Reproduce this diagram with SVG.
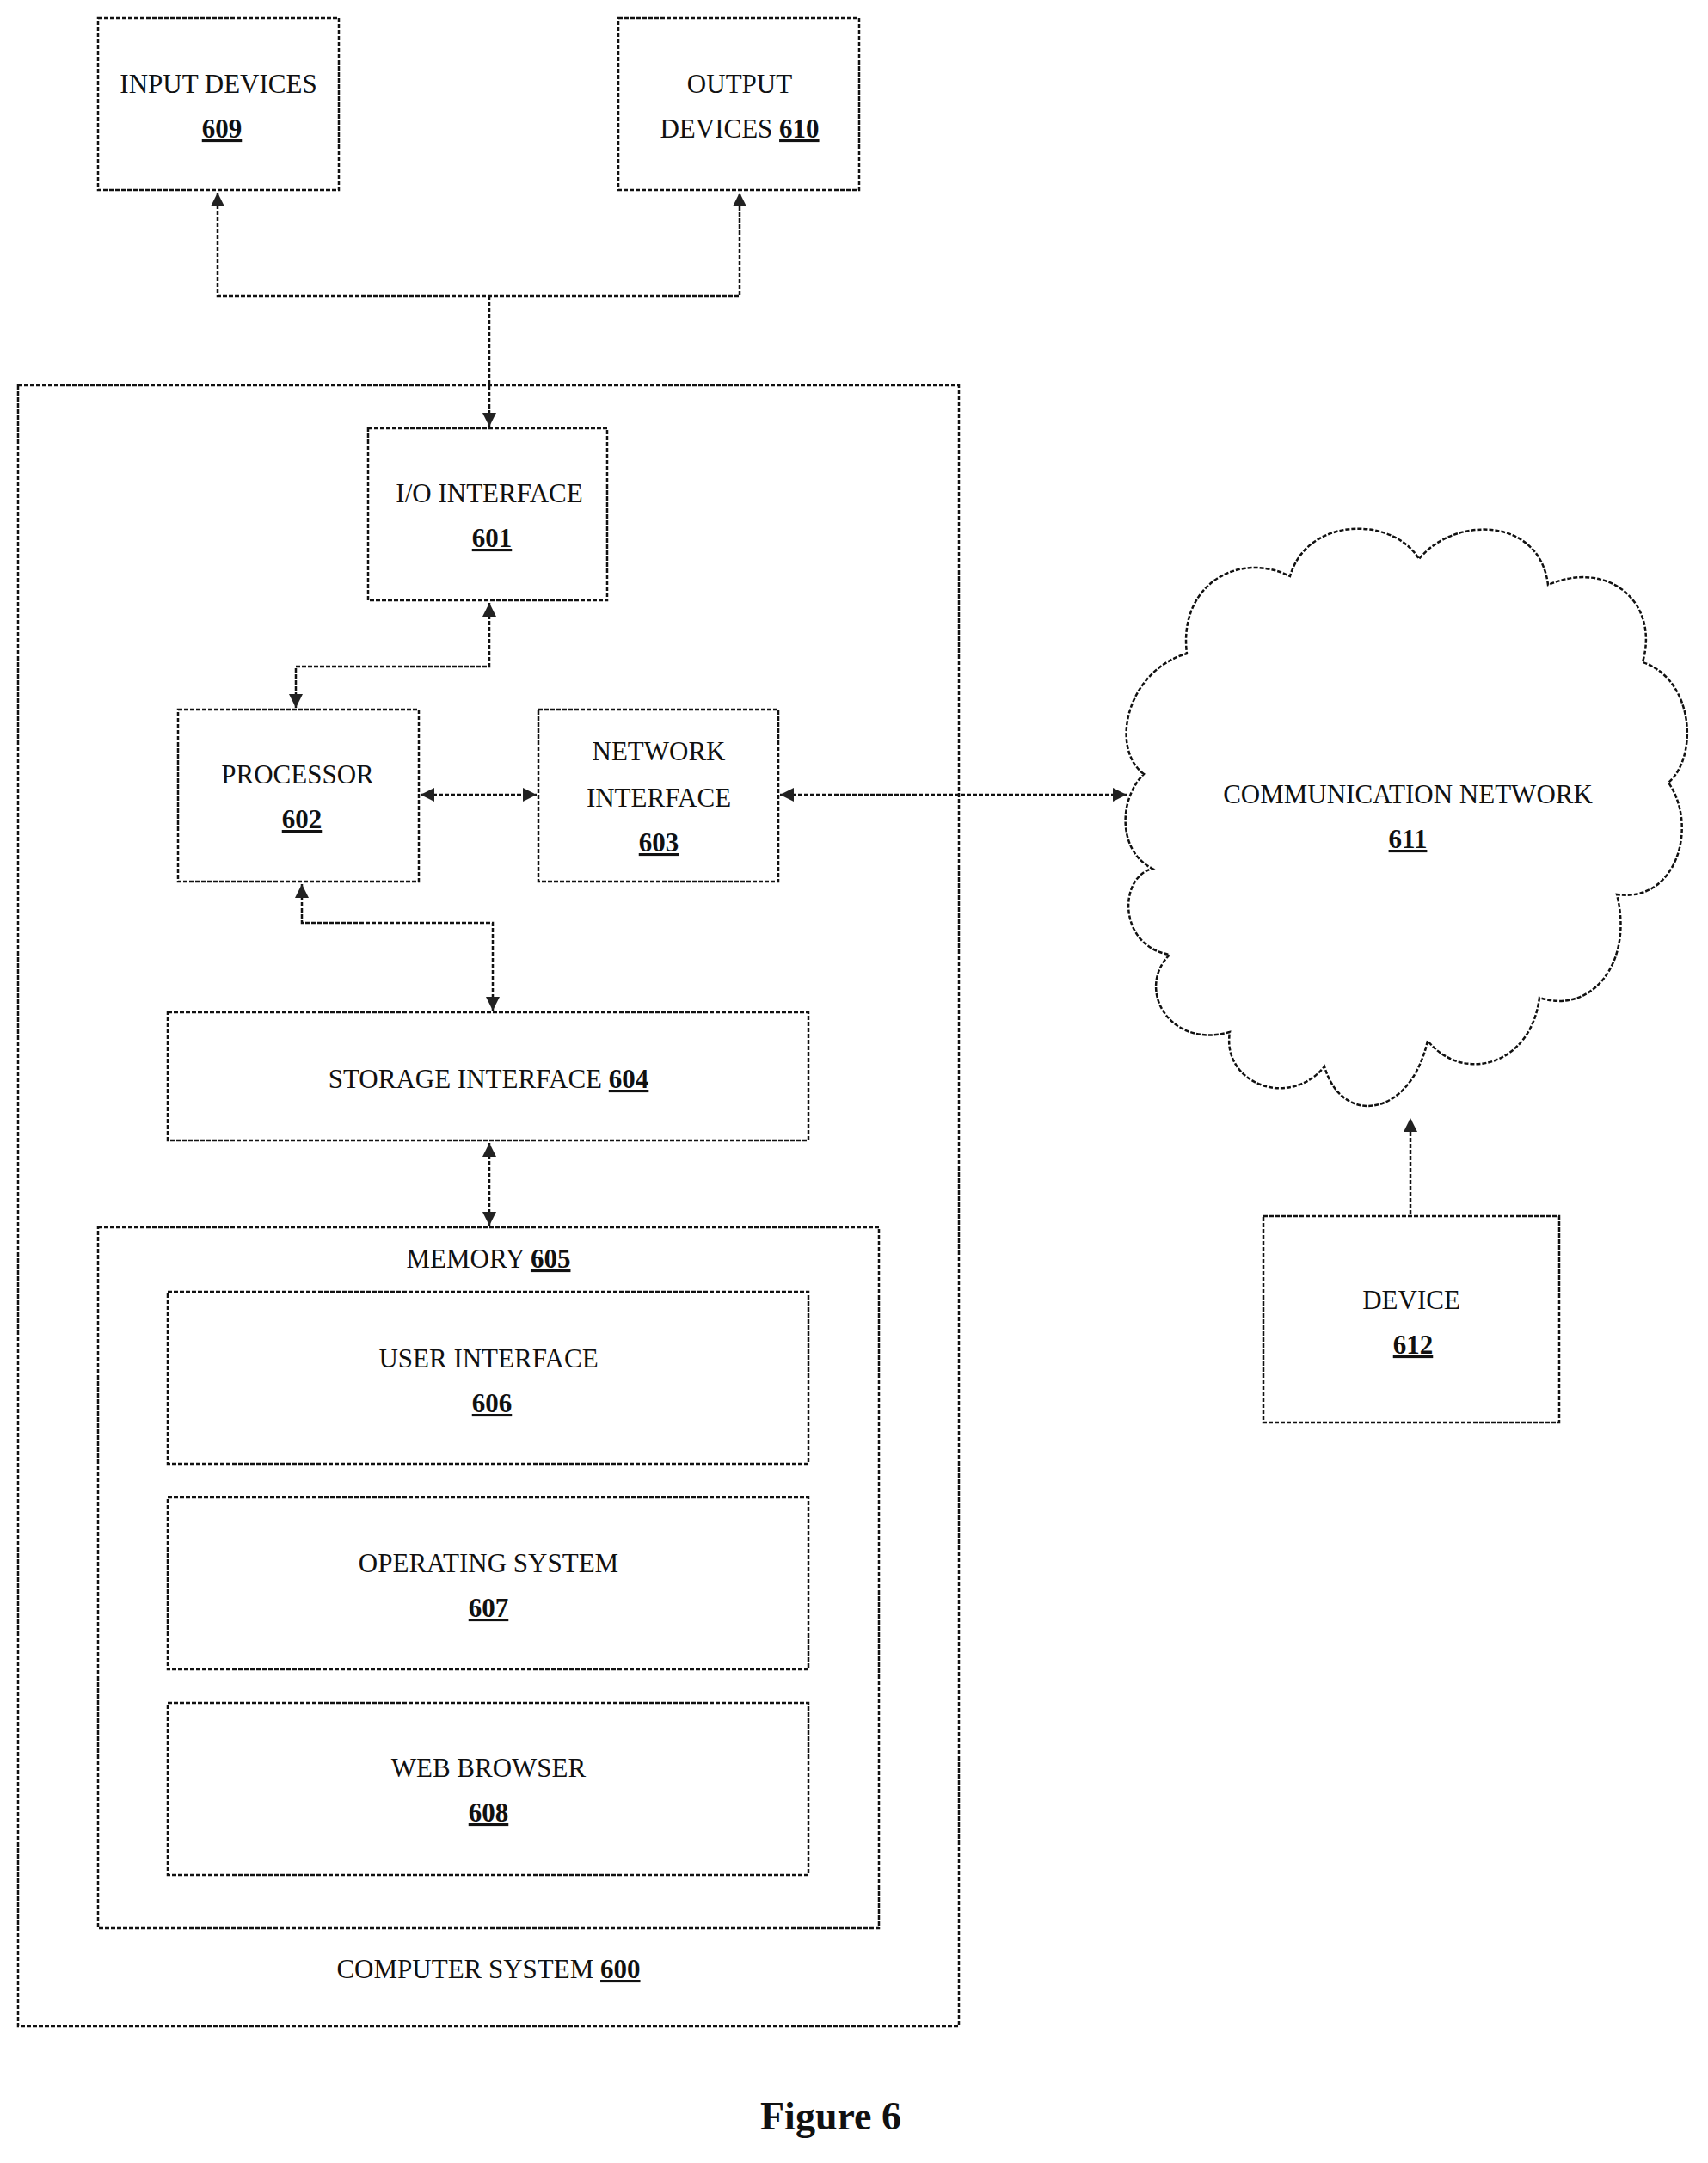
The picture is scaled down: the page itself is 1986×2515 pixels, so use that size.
<svg xmlns="http://www.w3.org/2000/svg" width="1986" height="2515" viewBox="0 0 1986 2515">
<style>
.b{fill:none;stroke:#111;stroke-width:2.5;stroke-dasharray:5 2}
.c{fill:none;stroke:#111;stroke-width:2.5;stroke-dasharray:5 2}
text{font-family:"Liberation Serif",serif;font-size:31px;fill:#111;text-anchor:middle}
.u{text-decoration:underline;font-weight:bold}
</style>
<defs>
<marker id="a" viewBox="0 0 10 10" refX="10" refY="5" markerWidth="9" markerHeight="9" orient="auto-start-reverse" markerUnits="userSpaceOnUse"><path d="M0,0 L10,5 L0,10 Z" fill="#111"/></marker>
<marker id="m" viewBox="0 0 10 10" refX="10" refY="5" markerWidth="22" markerHeight="16" orient="auto-start-reverse" markerUnits="userSpaceOnUse"><path d="M0,0 L10,5 L0,10 Z" fill="#222"/></marker>
</defs>
<rect width="1986" height="2515" fill="#fff"/>
<g id="computer-system"><rect class="b" x="21" y="448" width="1094" height="1908"/><text x="568" y="2300">COMPUTER SYSTEM <tspan class="u">600</tspan></text></g>
<g id="input-devices"><rect class="b" x="114" y="21" width="280" height="200"/><text x="254" y="108">INPUT DEVICES</text><text x="258" y="160" class="u">609</text></g>
<g id="output-devices"><rect class="b" x="719" y="21" width="280" height="200"/><text x="860" y="108">OUTPUT</text><text x="860" y="160">DEVICES <tspan class="u">610</tspan></text></g>
<g id="io-interface"><rect class="b" x="428" y="498" width="278" height="200"/><text x="569" y="584">I/O INTERFACE</text><text x="572" y="636" class="u">601</text></g>
<g id="processor"><rect class="b" x="207" y="825" width="280" height="200"/><text x="346" y="911">PROCESSOR</text><text x="351" y="963" class="u">602</text></g>
<g id="network-interface"><rect class="b" x="626" y="825" width="279" height="200"/><text x="766" y="884">NETWORK</text><text x="766" y="938">INTERFACE</text><text x="766" y="990" class="u">603</text></g>
<g id="storage-interface"><rect class="b" x="195" y="1177" width="745" height="149"/><text x="568" y="1265">STORAGE INTERFACE  <tspan class="u">604</tspan></text></g>
<g id="memory"><rect class="b" x="114" y="1427" width="908" height="815"/><text x="568" y="1474">MEMORY <tspan class="u">605</tspan></text></g>
<g id="user-interface"><rect class="b" x="195" y="1502" width="745" height="200"/><text x="568" y="1590">USER INTERFACE</text><text x="572" y="1642" class="u">606</text></g>
<g id="operating-system"><rect class="b" x="195" y="1741" width="745" height="200"/><text x="568" y="1828">OPERATING SYSTEM</text><text x="568" y="1880" class="u">607</text></g>
<g id="web-browser"><rect class="b" x="195" y="1980" width="745" height="200"/><text x="568" y="2066">WEB BROWSER</text><text x="568" y="2118" class="u">608</text></g>
<g id="communication-network"><path class="b" d="M1330,900 C1290,870 1310,780 1380,760 C1370,680 1440,640 1500,670 C1520,600 1620,600 1650,650 C1690,600 1790,600 1800,680 C1870,650 1930,700 1910,770 C1970,790 1975,880 1940,910 C1975,960 1950,1050 1880,1040 C1900,1120 1850,1180 1790,1160 C1780,1240 1700,1260 1660,1210 C1640,1300 1560,1310 1540,1240 C1500,1290 1420,1260 1430,1200 C1360,1220 1320,1150 1360,1110 C1300,1100 1300,1020 1340,1010 C1300,990 1300,930 1330,900 Z"/><text x="1637" y="934">COMMUNICATION NETWORK</text><text x="1637" y="986" class="u">611</text></g>
<g id="device"><rect class="b" x="1469" y="1414" width="344" height="240"/><text x="1641" y="1522">DEVICE</text><text x="1643" y="1574" class="u">612</text></g>
<g id="connectors">
<path class="c" d="M253,224 V344 H860 V224" marker-start="url(#m)" marker-end="url(#m)"/>
<path class="c" d="M569,344 V496" marker-end="url(#m)"/>
<path class="c" d="M569,701 V775 H344 V823" marker-start="url(#m)" marker-end="url(#m)"/>
<path class="c" d="M489,924 H624" marker-start="url(#m)" marker-end="url(#m)"/>
<path class="c" d="M907,924 H1310" marker-start="url(#m)" marker-end="url(#m)"/>
<path class="c" d="M351,1028 V1073 H573 V1175" marker-start="url(#m)" marker-end="url(#m)"/>
<path class="c" d="M569,1329 V1425" marker-start="url(#m)" marker-end="url(#m)"/>
<path class="c" d="M1640,1412 V1300" marker-end="url(#m)"/>
</g>
<text x="966" y="2476" style="font-weight:bold;font-size:46px">Figure 6</text>
</svg>
